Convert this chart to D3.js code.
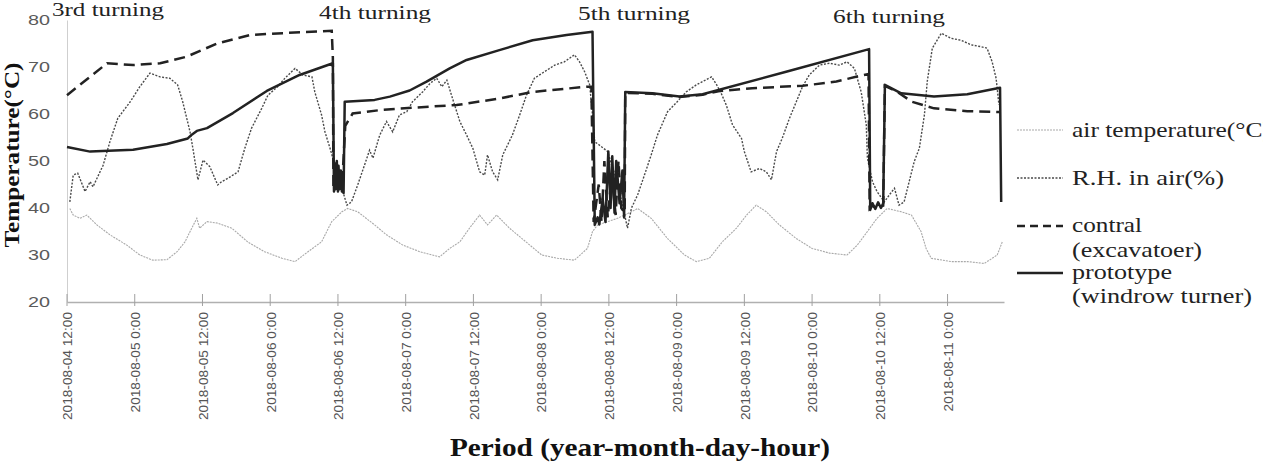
<!DOCTYPE html>
<html lang="en">
<head>
<meta charset="UTF-8">
<title>Compost temperature by turning</title>
<style>
  body { margin: 0; background: #fff; }
  svg { display: block; }
</style>
</head>
<body>
<div id="chart"></div>
<script src="https://d3js.org/d3.v7.min.js"></script>
<script>
// time is hours after 2018-08-04 12:00, value is degC or %
const airTemp = [[0.5,39.9],[1.1,38.5],[2.3,37.8],[3.5,38.5],[5.3,36.4],[7.6,34.3],[10.6,32.1],[12.9,30.0],[15.2,28.9],[17.7,29.0],
  [19.5,30.7],[20.9,32.8],[22.1,35.7],[23.0,37.8],[23.5,35.7],[24.8,37.1],[26.6,36.8],[29.2,35.7],[32.0,32.8],[35.0,30.7],
  [38.1,29.3],[40.4,28.6],[42.7,30.7],[45.1,32.8],[46.9,37.1],[48.7,39.2],[49.7,39.9],[51.5,39.2],[54.5,36.4],[56.6,34.3],
  [59.5,32.1],[62.5,30.7],[66.0,29.6],[67.8,31.4],[69.6,32.8],[71.3,35.7],[73.1,38.5],[74.5,36.4],[76.1,38.5],[78.4,35.7],
  [82.0,32.1],[84.1,30.0],[86.9,29.3],[89.9,28.9],[92.2,31.4],[93.1,35.0],[94.0,36.4],[95.8,37.1],[97.5,37.8],[100.0,39.2],
  [101.1,39.9],[103.5,37.8],[106.4,33.5],[109.4,30.0],[111.5,28.6],[113.8,29.3],[116.1,32.8],[118.6,35.7],[120.4,38.5],[122.1,40.6],
  [123.9,39.2],[126.2,36.4],[129.2,33.5],[132.0,31.4],[135.1,30.4],[138.2,30.0],[140.0,32.1],[141.8,35.0],[143.5,37.8],[145.3,39.9],
  [147.8,39.2],[149.6,38.5],[151.3,35.0],[152.2,31.4],[153.1,29.3],[156.6,28.6],[159.5,28.6],[162.5,28.2],[164.8,30.0],[165.7,32.8]];

const rhAir = [[0.5,41.3],[1.1,47.0],[1.9,47.4],[3.2,43.5],[4.1,45.6],[4.6,44.5],[6.4,49.1],[7.6,54.1],[9.0,59.1],[11.2,62.6],
  [12.9,65.8],[14.7,68.7],[16.5,67.9],[18.2,67.6],[19.6,66.2],[20.5,62.6],[21.8,56.2],[22.3,52.7],[23.2,46.0],[24.1,50.2],
  [25.3,48.8],[26.7,44.9],[27.4,45.6],[28.5,46.3],[30.3,47.7],[31.5,52.7],[32.7,57.0],[34.5,61.2],[35.6,64.0],[37.3,65.8],
  [38.6,67.6],[40.4,69.7],[41.8,68.3],[43.4,67.9],[43.9,64.7],[45.1,59.8],[45.7,56.2],[46.6,52.7],[47.1,50.6],[48.0,47.7],
  [48.7,44.2],[49.6,40.6],[50.4,41.3],[51.5,44.9],[52.7,49.1],[53.6,52.3],[54.2,50.6],[55.4,55.5],[56.6,58.4],[57.7,56.2],
  [58.9,59.8],[60.2,60.5],[61.2,62.6],[63.0,64.7],[64.3,66.5],[65.5,67.6],[66.4,65.8],[67.3,67.2],[68.3,63.3],[69.6,58.4],
  [70.8,55.5],[71.9,52.7],[73.1,47.7],[74.0,47.0],[74.5,51.3],[75.4,47.7],[76.3,46.0],[77.2,51.3],[78.9,55.5],[80.2,59.8],
  [81.4,64.0],[82.8,67.6],[84.6,69.0],[86.4,70.4],[88.1,71.1],[89.9,72.6],[90.8,71.1],[91.7,69.0],[92.6,66.2],[93.1,59.8],
  [93.5,54.1],[94.3,53.4],[95.8,52.0],[96.5,49.1],[97.5,45.6],[98.8,38.5],[99.3,35.7],[100.0,40.0],[101.1,42.8],[102.3,47.0],
  [103.5,51.3],[104.6,55.5],[106.4,60.5],[108.1,62.6],[109.7,64.7],[111.5,66.2],[112.6,66.9],[114.2,67.9],[115.1,66.2],[115.9,64.4],
  [116.8,61.9],[117.9,57.7],[119.5,54.8],[120.0,52.0],[121.2,47.7],[122.7,48.4],[123.9,47.7],[124.8,46.0],[125.7,52.0],[126.7,54.8],
  [128.0,59.1],[129.2,62.6],[130.3,65.8],[131.5,68.3],[133.3,70.4],[135.1,70.8],[136.8,70.4],[138.2,71.1],[139.5,69.7],[140.7,64.7],
  [141.6,57.7],[141.8,50.6],[142.7,45.6],[143.5,43.5],[144.8,41.3],[145.7,42.8],[146.6,44.2],[147.4,40.6],[148.3,41.3],[149.2,45.6],
  [150.1,49.9],[151.0,52.7],[151.9,59.8],[152.4,66.9],[153.3,74.0],[154.9,77.2],[156.6,76.1],[158.4,75.7],[160.2,74.7],[162.0,74.3],
  [163.0,74.0],[163.9,71.1],[164.6,67.6],[165.1,62.0]];

const contral = [[0.0,64.0],[7.1,70.8],[11.7,70.4],[16.5,70.8],[21.2,72.2],[26.6,75.0],[32.4,76.8],[38.2,77.2],[46.9,77.7],[47.1,72.0],
  [47.2,44.0],[48.0,45.0],[48.7,44.0],[49.3,57.5],[50.1,59.1],[50.6,60.1],[55.9,60.9],[64.8,61.6],[69.0,61.9],[76.6,63.3],
  [82.5,64.7],[92.0,65.8],[92.9,65.8],[93.3,37.0],[94.2,45.0],[94.7,37.0],[95.2,50.0],[95.8,38.0],[96.5,47.0],[97.2,38.5],
  [97.7,50.0],[98.2,40.0],[98.8,39.0],[98.9,64.5],[103.7,64.3],[108.5,63.6],[112.6,64.1],[115.6,64.9],[121.4,65.5],[130.3,66.0],
  [136.3,66.9],[140.4,68.1],[142.0,68.5],[142.2,40.0],[142.5,40.5],[143.5,40.0],[144.6,40.5],[144.9,66.0],[147.1,64.7],[149.7,62.6],
  [153.6,61.2],[159.5,60.6],[165.3,60.4]];

const prototype = [[0.0,53.0],[4.1,52.0],[11.7,52.4],[17.7,53.6],[21.4,54.8],[22.1,55.6],[23.0,56.4],[24.8,57.0],[29.4,60.2],[35.4,64.9],
  [41.2,68.3],[47.1,70.8],[47.3,43.5],[47.4,49.5],[47.6,44.0],[47.8,50.0],[48.0,43.5],[48.1,49.0],[48.3,44.0],[48.5,48.0],
  [48.7,43.5],[48.9,47.0],[49.0,43.2],[49.2,62.6],[54.5,63.0],[57.2,63.7],[60.7,65.0],[63.7,66.9],[67.8,69.7],[70.8,71.5],
  [76.6,73.6],[82.5,75.7],[88.5,76.8],[93.1,77.5],[93.5,36.4],[94.0,38.0],[94.3,36.5],[94.9,42.0],[95.4,37.0],[95.9,52.0],
  [96.3,40.0],[96.6,51.0],[97.0,39.0],[97.3,50.0],[97.9,41.0],[98.4,48.0],[98.7,38.0],[98.9,64.7],[103.7,64.4],[108.5,63.7],
  [112.6,64.2],[127.4,69.0],[142.1,73.8],[142.3,39.6],[142.7,41.0],[143.2,39.8],[143.7,41.2],[144.2,40.0],[144.6,41.0],[144.9,66.2],
  [147.8,64.4],[153.6,63.7],[159.5,64.2],[165.3,65.6],[165.5,41.3]];

const tickLabels = ["2018-08-04 12:00","2018-08-05 0:00","2018-08-05 12:00","2018-08-06 0:00","2018-08-06 12:00",
  "2018-08-07 0:00","2018-08-07 12:00","2018-08-08 0:00","2018-08-08 12:00","2018-08-09 0:00","2018-08-09 12:00",
  "2018-08-10 0:00","2018-08-10 12:00","2018-08-11 0:00"];
const yTicks = [20, 30, 40, 50, 60, 70, 80];
const turnings = ["3rd turning", "4th turning", "5th turning", "6th turning"];
const legendNames = [["air temperature(\u00b0C)"], ["R.H. in air(%)"], ["contral", "(excavatoer)"], ["prototype", "(windrow turner)"]];

const svg = d3.select("#chart").append("svg").attr("width", 1263).attr("height", 462);
const margin = {top: 20, left: 67};
const width = 937, height = 282;
const g = svg.append("g").attr("transform", "translate(" + margin.left + "," + margin.top + ")");

const t0 = new Date(2018, 7, 4, 12, 0);
const toDate = h => new Date(t0.getTime() + h * 3600e3);

const x = d3.scaleTime().domain([t0, toDate(166)]).range([0, width]);
const y = d3.scaleLinear().domain([20, 80]).range([height, 0]);

const serif = "'Liberation Serif', 'Times New Roman', serif";
const sans = "'Liberation Sans', Arial, sans-serif";

// y axis
const yAxis = g.append("g").call(d3.axisLeft(y).tickValues(yTicks).tickSize(0).tickPadding(17));
yAxis.select(".domain").attr("stroke", "#cfcfcf");
yAxis.selectAll("text").attr("font-family", sans).attr("font-size", 14).attr("fill", "#5a5a5a")
  .attr("textLength", 22).attr("lengthAdjust", "spacingAndGlyphs");

// x axis
const tickDates = tickLabels.map((d, i) => toDate(i * 12));
const xAxis = g.append("g").attr("transform", "translate(0," + height + ")")
  .call(d3.axisBottom(x).tickValues(tickDates).tickSize(0).tickFormat((d, i) => tickLabels[i]));
xAxis.select(".domain").attr("stroke", "#b0b0b0").attr("stroke-width", 1.5);
xAxis.selectAll("text")
  .attr("font-family", sans).attr("font-size", 13.7).attr("fill", "#555")
  .attr("text-anchor", "end").attr("transform", "rotate(-90)")
  .attr("x", -10).attr("y", 0).attr("dy", "0.35em");
g.selectAll(".xtick").data(tickDates).enter().append("line")
  .attr("class", "xtick")
  .attr("x1", d => x(d)).attr("x2", d => x(d))
  .attr("y1", height - 8).attr("y2", height + 4)
  .attr("stroke", "#a0a0a0");

// lines
const line = d3.line().x(d => x(toDate(d[0]))).y(d => y(d[1]));

g.append("path").datum(airTemp).attr("d", line)
  .attr("fill", "none").attr("stroke", "#a9a9a9").attr("stroke-width", 1.1).attr("stroke-dasharray", "2,1");
g.append("path").datum(rhAir).attr("d", line)
  .attr("fill", "none").attr("stroke", "#4a4a4a").attr("stroke-width", 1.4).attr("stroke-dasharray", "2,1.5");
g.append("path").datum(contral).attr("d", line)
  .attr("fill", "none").attr("stroke", "#222").attr("stroke-width", 2.5).attr("stroke-dasharray", "11,6");
g.append("path").datum(prototype).attr("d", line)
  .attr("fill", "none").attr("stroke", "#222").attr("stroke-width", 2.5).attr("stroke-linejoin", "round");

// turning labels
const turnPos = [[52, 16], [319, 19], [578, 20], [833, 23]];
svg.selectAll(".turn").data(turnings).enter().append("text")
  .attr("class", "turn")
  .attr("x", (d, i) => turnPos[i][0]).attr("y", (d, i) => turnPos[i][1])
  .attr("font-family", serif).attr("font-size", 19).attr("fill", "#222")
  .attr("textLength", 112).attr("lengthAdjust", "spacingAndGlyphs")
  .text(d => d);

// axis titles
svg.append("text")
  .attr("transform", "translate(19,155) rotate(-90)")
  .attr("text-anchor", "middle")
  .attr("font-family", serif).attr("font-weight", "bold").attr("font-size", 22).attr("fill", "#111")
  .attr("textLength", 185).attr("lengthAdjust", "spacingAndGlyphs")
  .text("Temperature(\u00b0C)");
svg.append("text")
  .attr("x", 640).attr("y", 456)
  .attr("text-anchor", "middle")
  .attr("font-family", serif).attr("font-weight", "bold").attr("font-size", 26).attr("fill", "#111")
  .attr("textLength", 380).attr("lengthAdjust", "spacingAndGlyphs")
  .text("Period (year-month-day-hour)");

// legend
const legendStyles = [
  {stroke: "#a9a9a9", width: 1.1, dash: "2,1"},
  {stroke: "#4a4a4a", width: 1.4, dash: "2,1.5"},
  {stroke: "#222", width: 2.5, dash: "8,5"},
  {stroke: "#222", width: 2.5, dash: null}
];
const legendLineY = [130, 178, 226, 273];
const legendTextY = [[137], [185], [232, 257], [279, 303]];
const legendTextW = [[199], [152], [70, 130], [100, 180]];
const legend = svg.append("g");
legendNames.forEach((names, i) => {
  const s = legendStyles[i];
  legend.append("line")
    .attr("x1", 1017).attr("x2", 1063).attr("y1", legendLineY[i]).attr("y2", legendLineY[i])
    .attr("stroke", s.stroke).attr("stroke-width", s.width).attr("stroke-dasharray", s.dash);
  names.forEach((name, j) => {
    legend.append("text")
      .attr("x", 1072).attr("y", legendTextY[i][j])
      .attr("font-family", serif).attr("font-size", 21).attr("fill", "#222")
      .attr("textLength", legendTextW[i][j]).attr("lengthAdjust", "spacingAndGlyphs")
      .text(name);
  });
});
</script>
</body>
</html>
